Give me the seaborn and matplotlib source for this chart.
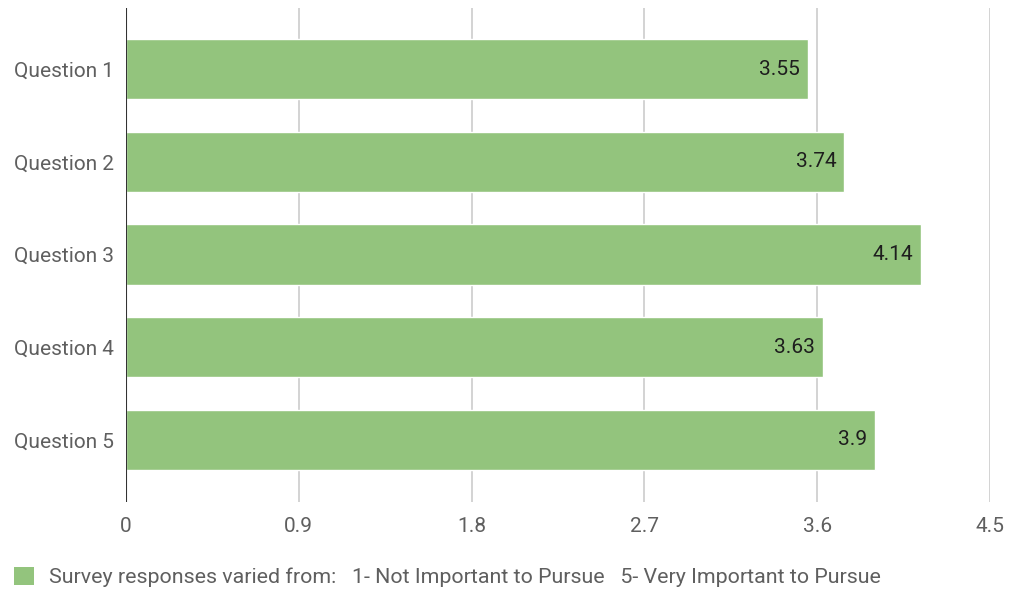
import matplotlib
matplotlib.use("Agg")
import matplotlib.pyplot as plt
import seaborn as sns
import pandas as pd
from matplotlib.patches import Patch

questions = ["Question 1", "Question 2", "Question 3", "Question 4", "Question 5"]
scores = [3.55, 3.74, 4.14, 3.63, 3.9]
label_texts = ["3.55", "3.74", "4.14", "3.63", "3.9"]
xticks = [0, 0.9, 1.8, 2.7, 3.6, 4.5]
xtick_labels = ["0", "0.9", "1.8", "2.7", "3.6", "4.5"]
legend_label = "Survey responses varied from:   1- Not Important to Pursue   5- Very Important to Pursue"

sns.set_theme(style="white")
plt.rcParams['font.family'] = ['Roboto', 'DejaVu Sans']

df = pd.DataFrame({"question": questions, "score": scores})

fig = plt.figure(figsize=(10.09, 5.92), dpi=100)
ax = fig.add_axes([126/1009, 1-502/592, (990-126)/1009, (502-8)/592])

bar_color = "#93c47d"
sns.barplot(data=df, y="question", x="score", orient="h", color=bar_color,
            width=0.65, saturation=1, ax=ax, zorder=3)

ax.set_xlim(0, 4.5)
ax.set_ylim(4.67, -0.66)
ax.set_xticks(xticks)
ax.set_xticklabels(xtick_labels)
ax.set_xlabel("")
ax.set_ylabel("")
for x in xticks[1:]:
    ax.axvline(x, color="#cccccc", lw=1.2, zorder=1)
ax.axvline(0, color="#333333", lw=1.5, zorder=4)
for s in ax.spines.values():
    s.set_visible(False)
ax.tick_params(axis="x", length=0, pad=11, labelsize=15, labelcolor="#5f5f5f")
ax.tick_params(axis="y", length=0, pad=9, labelsize=15, labelcolor="#5f5f5f")

for i, (v, t) in enumerate(zip(scores, label_texts)):
    ax.text(v - 0.04, i, t, ha="right", va="center", fontsize=15, color="#1e1e1e", zorder=5)

handle = Patch(facecolor=bar_color, edgecolor="none")
fig.legend([handle], [legend_label], loc="center left",
           bbox_to_anchor=(14/1009, 1-577/592),
           frameon=False, fontsize=15.4, handlelength=0.93, handleheight=0.93,
           handletextpad=0.7, borderpad=0, borderaxespad=0, labelcolor="#5f5f5f")

fig.savefig("out.png", dpi=100)
